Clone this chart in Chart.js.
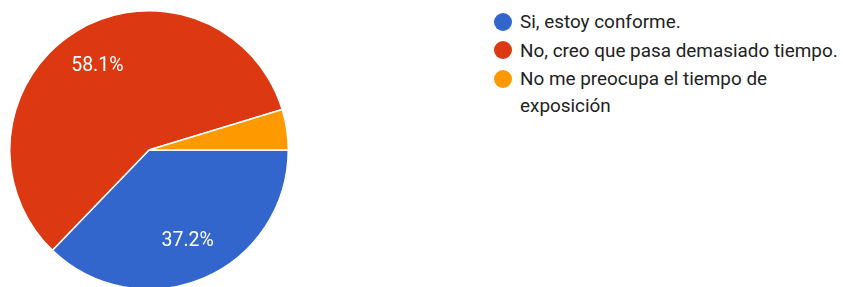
<!DOCTYPE html>
<html>
<head>
<meta charset="utf-8">
<script src="https://cdn.jsdelivr.net/npm/chart.js@4/dist/chart.umd.min.js"></script>
<style>
  html, body { margin: 0; padding: 0; background: #fff; overflow: hidden; width: 843px; height: 287px; }
  #pieWrap { position: absolute; left: 9px; top: 10px; width: 280px; height: 280px; }
  #legend { position: absolute; left: 494px; top: 8px; font-family: Roboto, "Noto Sans", sans-serif; font-size: 18.9px; color: #222; }
  .item { display: flex; align-items: flex-start; margin-bottom: 1.5px; }
  .dot { width: 18px; height: 18px; border-radius: 50%; margin-top: 4.5px; margin-right: 8px; flex: 0 0 18px; }
  .txt { line-height: 27px; max-width: 322px; }
</style>
</head>
<body>
<div id="pieWrap"><canvas id="c"></canvas></div>
<div id="legend"></div>
<script>
const categories = ["Si, estoy conforme.", "No, creo que pasa demasiado tiempo.", "No me preocupa el tiempo de exposición"];
const percentages = [37.2, 58.1, 4.7];
const colors = ["#3366cc", "#dc3912", "#ff9900"];

const sliceLabels = {
  id: 'sliceLabels',
  afterDatasetsDraw(chart) {
    const ctx = chart.ctx;
    const meta = chart.getDatasetMeta(0);
    const data = chart.data.datasets[0].data;
    const total = data.reduce((a, b) => a + b, 0);
    ctx.save();
    ctx.fillStyle = '#fff';
    ctx.font = '19.5px Roboto, "Noto Sans", sans-serif';
    ctx.textAlign = 'center';
    ctx.textBaseline = 'middle';
    meta.data.forEach((arc, i) => {
      const frac = data[i] / total;
      if (frac < 0.05) return;
      const p = arc.getProps(['x', 'y', 'startAngle', 'endAngle', 'outerRadius'], true);
      const mid = (p.startAngle + p.endAngle) / 2;
      const r = p.outerRadius * 0.71;
      ctx.fillText(data[i].toFixed(1) + '%', p.x + Math.cos(mid) * r, p.y + Math.sin(mid) * r);
    });
    ctx.restore();
  }
};

new Chart(document.getElementById('c'), {
  type: 'pie',
  data: {
    labels: categories,
    datasets: [{
      data: percentages,
      backgroundColor: colors,
      borderColor: '#ffffff',
      borderWidth: 1.5
    }]
  },
  options: {
    responsive: true,
    maintainAspectRatio: false,
    animation: false,
    rotation: 90,
    layout: { padding: 0 },
    plugins: { legend: { display: false }, tooltip: { enabled: false } }
  },
  plugins: [sliceLabels]
});

const legend = document.getElementById('legend');
categories.forEach((cat, i) => {
  const item = document.createElement('div');
  item.className = 'item';
  const dot = document.createElement('span');
  dot.className = 'dot';
  dot.style.background = colors[i];
  const txt = document.createElement('span');
  txt.className = 'txt';
  txt.textContent = cat;
  item.appendChild(dot);
  item.appendChild(txt);
  legend.appendChild(item);
});
</script>
</body>
</html>
